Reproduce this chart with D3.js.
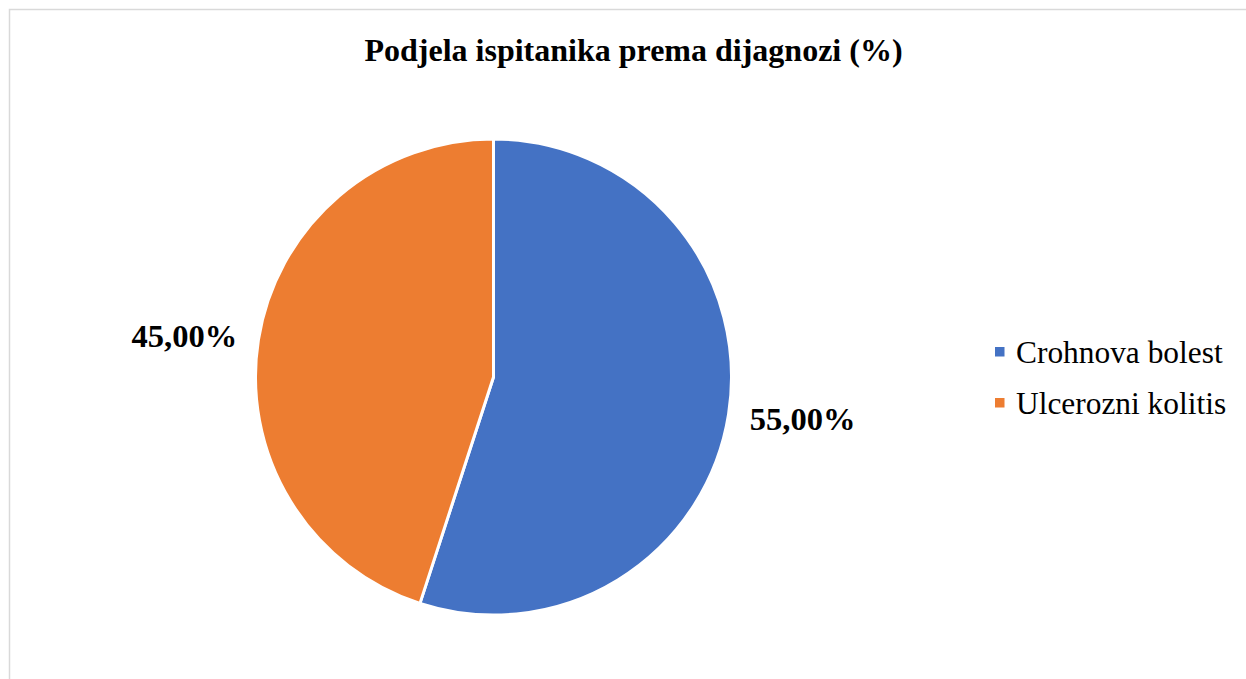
<!DOCTYPE html>
<html><head><meta charset="utf-8">
<script src="https://cdn.jsdelivr.net/npm/d3@7"></script>
<style>html,body{margin:0;padding:0;background:#fff;overflow:hidden}</style>
</head><body>
<svg id="chart" width="1246" height="679"></svg>
<script>
const categories = ["Crohnova bolest", "Ulcerozni kolitis"];
const values = [55, 45];
const labels = ["55,00%", "45,00%"];
const colors = ["#4472C4", "#ED7D31"];
const title = "Podjela ispitanika prema dijagnozi (%)";

const svg = d3.select("#chart");
const W = 1246, H = 679;
svg.append("rect").attr("x", 9.5).attr("y", 9.5).attr("width", W).attr("height", H)
  .attr("fill", "#fff").attr("stroke", "#d9d9d9").attr("stroke-width", 1.5);

svg.append("text").attr("x", 633.5).attr("y", 61).attr("text-anchor", "middle")
  .style("font-family", "'Liberation Serif', 'Times New Roman', serif")
  .style("font-weight", "bold").style("font-size", "32px").attr("fill", "#000").text(title);

const cx = 493.5, cy = 377, r = 238;
const pie = d3.pie().sort(null).value(d => d)(values);
const arc = d3.arc().innerRadius(0).outerRadius(r);
const g = svg.append("g").attr("transform", `translate(${cx},${cy})`);
g.selectAll("path").data(pie).join("path")
  .attr("d", arc).attr("fill", (d, i) => colors[i])
  .attr("stroke", "#fff").attr("stroke-width", 3).attr("stroke-linejoin", "round");

const labelArc = d3.arc().innerRadius(313).outerRadius(313);
g.selectAll("text.lbl").data(pie).join("text").attr("class", "lbl")
  .attr("transform", d => { const c = labelArc.centroid(d); return `translate(${c[0]},${c[1] * 0.85})`; })
  .attr("text-anchor", "middle").attr("dy", "0.35em")
  .style("font-family", "'Liberation Serif', 'Times New Roman', serif")
  .style("font-weight", "bold").style("font-size", "32.5px").attr("fill", "#000")
  .text((d, i) => labels[i]);

const leg = svg.append("g");
const items = leg.selectAll("g").data(categories).join("g")
  .attr("transform", (d, i) => `translate(995,${347 + i * 51})`);
items.append("rect").attr("width", 9.5).attr("height", 9.5).attr("fill", (d, i) => colors[i]);
items.append("text").attr("x", 21).attr("y", 16)
  .style("font-family", "'Liberation Serif', 'Times New Roman', serif")
  .style("font-size", "31.4px").attr("fill", "#000").text(d => d);
</script>
</body></html>
